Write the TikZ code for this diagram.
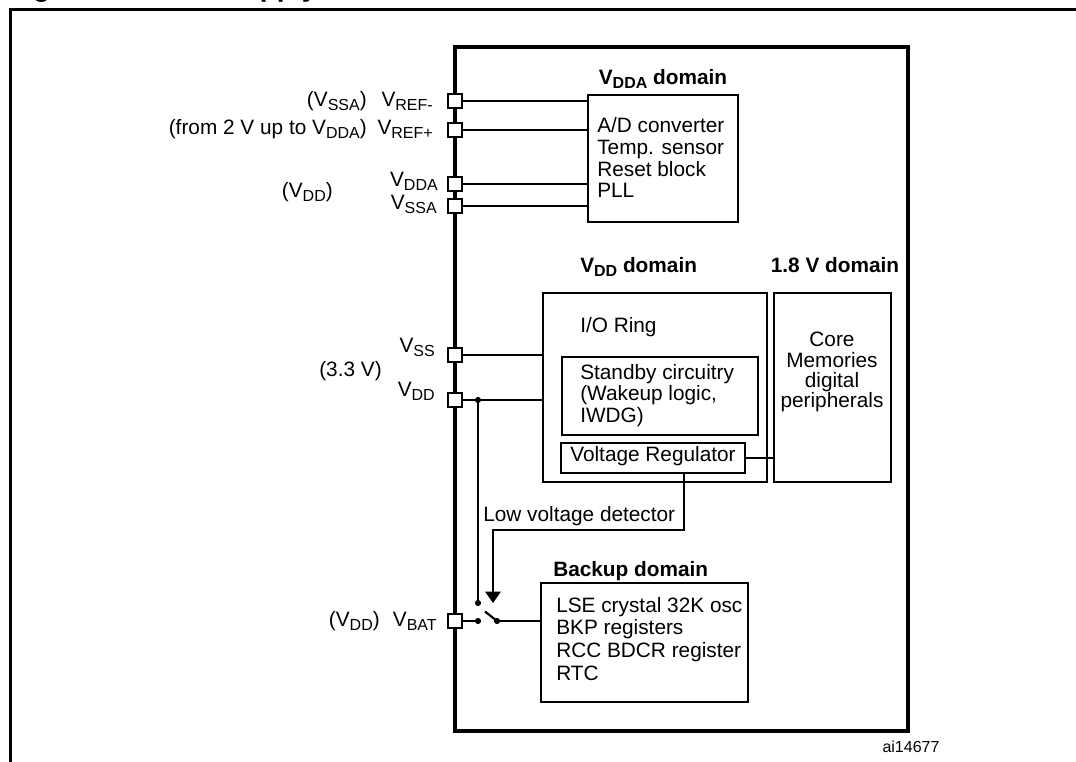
\documentclass[tikz,border=0pt]{standalone}
\usepackage{fontspec}
\setmainfont{Liberation Sans}
\usetikzlibrary{fit,arrows.meta}
\newcommand{\sbs}[1]{\raisebox{-2.6pt}{\fontsize{12pt}{12pt}\selectfont #1}}
\begin{document}
\begin{tikzpicture}[x=0.75pt,y=-0.75pt,
  every node/.style={font=\fontsize{15.6pt}{18pt}\selectfont},
  frame/.style={line width=2.25pt},
  chipbox/.style={draw, line width=2.55pt, inner sep=0pt},
  box/.style={draw, line width=1.95pt, inner sep=0pt},
  pin/.style={draw, fill=white, line width=1.6pt, minimum size=10.9pt, inner sep=0pt},
  wire/.style={line width=1.65pt},
  dot/.style={circle, fill=black, inner sep=0pt, minimum size=4.6pt},
  lbl/.style={anchor=base east, inner sep=0pt},
  txt/.style={anchor=base west, inner sep=0pt},
  ctxt/.style={anchor=base, inner sep=0pt},
  ttl/.style={inner sep=0pt, font=\bfseries\fontsize{15.6pt}{18pt}\selectfont}]
\clip (0,0) rectangle (1076,762);
% cut-off title and frame
\node[anchor=base west, inner sep=0pt, font=\bfseries\fontsize{21pt}{24pt}\selectfont] (fig) at (8,-3) {Figure 4. Power supply overview};
\draw[frame] (10,800) -- (10,10) -- (1100,10);
% chip
\node[chipbox, fit={(455,47) (908,731)}] (chip) {};
% VDDA domain
\node[box, fit={(588,95) (738,222)}] (vdda) {};
\node[ttl, anchor=base] (tVdda) at (663,85) {V\sbs{DDA} domain};
\node[txt] (a1) at (597,133) {A/D converter};
\node[txt] (a2) at (597,155) {Temp. sensor};
\node[txt] (a3) at (597,177) {Reset block};
\node[txt] (a4) at (597,198) {PLL};
% VDD domain
\node[box, fit={(543,293) (767,482)}] (vdd) {};
\node[ttl, anchor=base west] (tVdd) at (580,273) {V\sbs{DD} domain};
\node[txt] (io) at (580,333) {I/O Ring};
\node[box, fit={(562,357) (758,435)}] (stby) {};
\node[txt] (s1) at (580,380) {Standby circuitry};
\node[txt] (s2) at (580,401) {(Wakeup logic,};
\node[txt] (s3) at (580,423) {IWDG)};
\node[box, fit={(561,443) (745,473)}] (reg) {};
\node[ctxt] (regt) at (653,462) {Voltage Regulator};
% 1.8 V domain
\node[box, fit={(774,293) (891,482)}] (core) {};
\node[ttl, anchor=base] (t18) at (835,273) {1.8 V domain};
\node[ctxt] (c1) at (832,347) {Core};
\node[ctxt] (c2) at (832,368) {Memories};
\node[ctxt] (c3) at (832,388) {digital};
\node[ctxt] (c4) at (832,408) {peripherals};
% Backup domain
\node[box, fit={(541,583) (748,702)}] (bkp) {};
\node[ttl, anchor=base west] (tBkp) at (553,577) {Backup domain};
\node[txt] (b1) at (556,613) {LSE crystal 32K osc};
\node[txt] (b2) at (556,635) {BKP registers};
\node[txt] (b3) at (556,658) {RCC BDCR register};
\node[txt] (b4) at (556,681) {RTC};
% pins
\node[pin] (pRefm) at (455,101) {};
\node[pin] (pRefp) at (455,130) {};
\node[pin] (pVdda) at (455,184) {};
\node[pin] (pVssa) at (455,206) {};
\node[pin] (pVss) at (455,355) {};
\node[pin] (pVdd) at (455,400) {};
\node[pin] (pVbat) at (455,621) {};
% pin labels
\node[lbl] (lRefmA) at (367,107) {(V\sbs{SSA})};
\node[lbl] (lRefm) at (433,107) {V\sbs{REF-}};
\node[lbl] (lRefpA) at (367,135) {(from 2 V up to V\sbs{DDA})};
\node[lbl] (lRefp) at (433,135) {V\sbs{REF+}};
\node[lbl] (lVdda) at (438,187) {V\sbs{DDA}};
\node[lbl] (lVddaA) at (333,198) {(V\sbs{DD})};
\node[lbl] (lVssa) at (437,210) {V\sbs{SSA}};
\node[lbl] (lVss) at (435,353) {V\sbs{SS}};
\node[lbl] (l33) at (382,377) {(3.3 V)};
\node[lbl] (lVdd) at (435,397) {V\sbs{DD}};
\node[lbl] (lVbatA) at (380,627) {(V\sbs{DD})};
\node[lbl] (lVbat) at (437,627) {V\sbs{BAT}};
% wires
\draw[wire] (pRefm.east) -- (pRefm -| vdda.west);
\draw[wire] (pRefp.east) -- (pRefp -| vdda.west);
\draw[wire] (pVdda.east) -- (pVdda -| vdda.west);
\draw[wire] (pVssa.east) -- (pVssa -| vdda.west);
\draw[wire] (pVss.east) -- (pVss -| vdd.west);
\draw[wire] (pVdd.east) -- (pVdd -| vdd.west);
\draw[wire] (reg.east) -- (reg.east -| core.west);
% switch
\node[dot] (dVdd) at (478,400) {};
\node[dot] (swA) at (478,603) {};
\node[dot] (swB) at (478,621) {};
\node[dot] (swC) at (497,621) {};
\coordinate (blade) at (485,611.5);
\draw[wire] (dVdd.center) -- (swA.center);
\draw[wire] (pVbat.east) -- (swB.center);
\draw[wire] (swC.center) -- (blade);
\draw[wire] (swC.center) -- (swC -| bkp.west);
% low voltage detector
\coordinate (lvdA) at (684,530);
\coordinate (lvdB) at (493,530);
\coordinate (lvdTip) at (493,603);
\draw[wire, -{Triangle[width=11.5pt,length=8.5pt]}] (lvdA |- reg.south) -- (lvdA) -- (lvdB) -- (lvdTip);
\node[txt] (lvdt) at (483,522) {Low voltage detector};
% reference number
\node[anchor=base, inner sep=0pt, font=\fontsize{12pt}{14pt}\selectfont] (ref) at (911,753) {ai14677};
\end{tikzpicture}
\end{document}
